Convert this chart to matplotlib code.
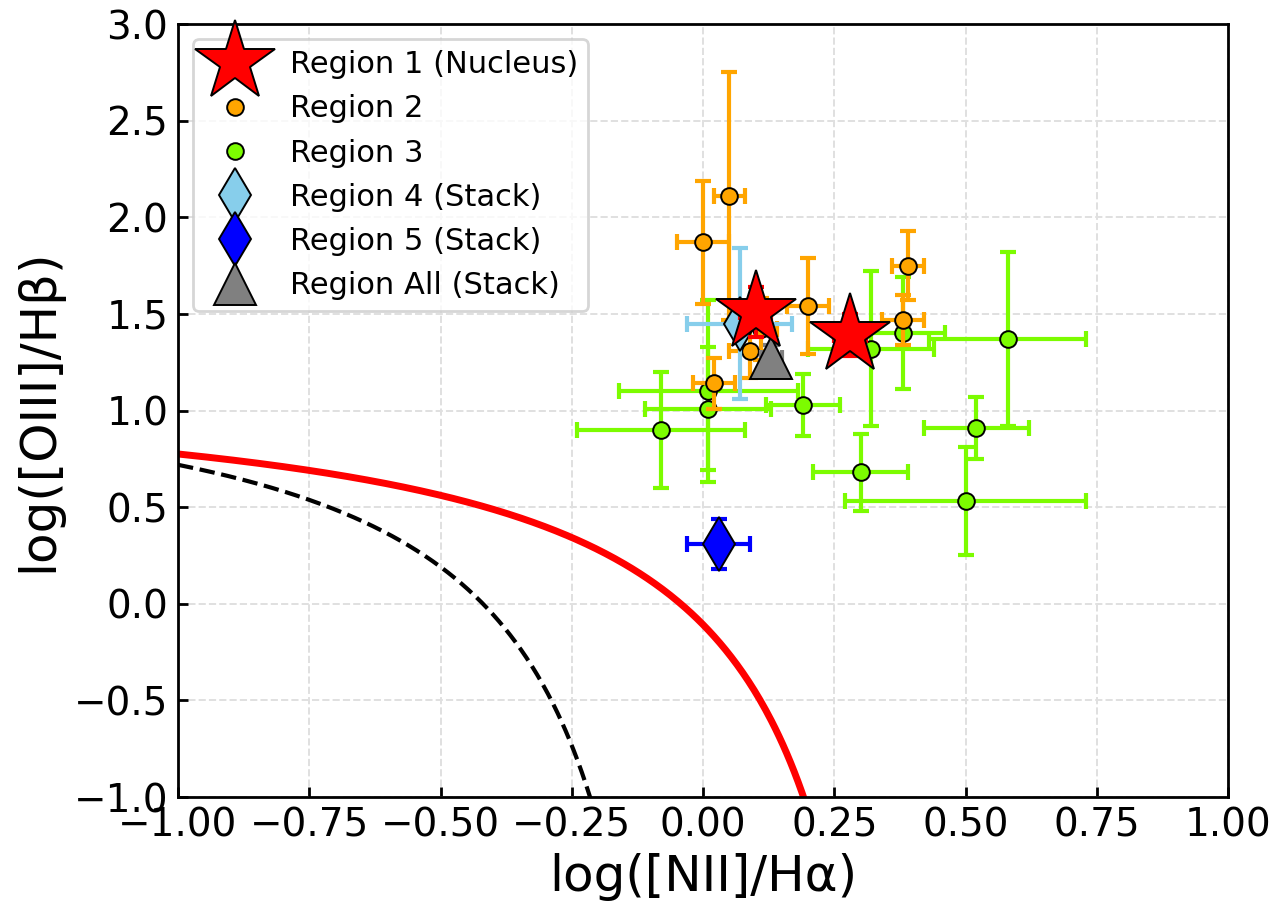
import numpy as np
import matplotlib
matplotlib.use("Agg")
import matplotlib.pyplot as plt

# ---------------- data ----------------
r1_x = [0.10, 0.28]
r1_y = [1.51, 1.39]
r1_xerr = [0.03, 0.03]
r1_yerr = [0.13, 0.11]

r2_x = [0.05, 0.00, 0.20, 0.39, 0.38, 0.09, 0.11, 0.02]
r2_y = [2.11, 1.87, 1.54, 1.75, 1.47, 1.31, 1.42, 1.14]
r2_xerr = [0.03, 0.05, 0.04, 0.03, 0.04, 0.04, 0.03, 0.04]
r2_yerr = [0.64, 0.32, 0.25, 0.18, 0.13, 0.14, 0.16, 0.13]

r3_x = [0.58, 0.52, 0.50, 0.30, 0.19, -0.08, 0.01, 0.01, 0.32, 0.38]
r3_y = [1.37, 0.91, 0.53, 0.68, 1.03, 0.90, 1.10, 1.01, 1.32, 1.40]
r3_xerr = [0.15, 0.10, 0.23, 0.09, 0.07, 0.16, 0.17, 0.12, 0.12, 0.08]
r3_yerr = [0.45, 0.16, 0.28, 0.20, 0.16, 0.30, 0.47, 0.32, 0.40, 0.29]

r4_x, r4_y, r4_xerr, r4_yerr = [0.07], [1.45], [0.10], [0.39]
r5_x, r5_y, r5_xerr, r5_yerr = [0.03], [0.31], [0.06], [0.13]
rall_x, rall_y, rall_xerr, rall_yerr = [0.13], [1.27], [0.02], [0.07]

labels = ["Region 1 (Nucleus)", "Region 2", "Region 3", "Region 4 (Stack)",
          "Region 5 (Stack)", "Region All (Stack)"]
xticks = [-1.00, -0.75, -0.50, -0.25, 0.00, 0.25, 0.50, 0.75, 1.00]
yticks = [-1.0, -0.5, 0.0, 0.5, 1.0, 1.5, 2.0, 2.5, 3.0]

# demarcation curves: y = a / (x - b) + c
kewley = (0.61, 0.47, 1.19)
kauffmann = (0.61, 0.05, 1.30)

# ---------------- figure ----------------
fig = plt.figure(figsize=(6.37, 4.525), dpi=200)
ax = fig.add_axes([178/1274, 1 - 797/905, (1228-178)/1274, (797-24)/905])

ax.grid(True, color="#e0e0e0", linestyle="--", linewidth=0.7, zorder=0)
ax.set_axisbelow(True)

xk = np.linspace(-1.0, kewley[1] - 0.02, 400)
ax.plot(xk, kewley[0] / (xk - kewley[1]) + kewley[2], color="red", lw=2.5, zorder=2)
xf = np.linspace(-1.0, kauffmann[1] - 0.02, 400)
ax.plot(xf, kauffmann[0] / (xf - kauffmann[1]) + kauffmann[2], color="black",
        lw=1.5, ls="--", zorder=2)

ekw = dict(fmt="none", elinewidth=1.5, capsize=3, capthick=1.5)
mew = 0.7

ax.errorbar(r3_x, r3_y, xerr=r3_xerr, yerr=r3_yerr, ecolor="#7CFC00", zorder=3, **ekw)
ax.plot(r3_x, r3_y, ls="none", marker="o", ms=6, mfc="#7CFC00", mec="black",
        mew=mew, zorder=4)
ax.errorbar(r2_x, r2_y, xerr=r2_xerr, yerr=r2_yerr, ecolor="#FFA500", zorder=5, **ekw)
ax.plot(r2_x, r2_y, ls="none", marker="o", ms=6, mfc="#FFA500", mec="black",
        mew=mew, zorder=6)
ax.errorbar(r4_x, r4_y, xerr=r4_xerr, yerr=r4_yerr, ecolor="#87CEEB", zorder=7, **ekw)
ax.plot(r4_x, r4_y, ls="none", marker="d", ms=14, mfc="#87CEEB", mec="black",
        mew=mew, zorder=8)
ax.errorbar(r5_x, r5_y, xerr=r5_xerr, yerr=r5_yerr, ecolor="blue", zorder=7, **ekw)
ax.plot(r5_x, r5_y, ls="none", marker="d", ms=14, mfc="blue", mec="black",
        mew=mew, zorder=8)
ax.errorbar(rall_x, rall_y, xerr=rall_xerr, yerr=rall_yerr, ecolor="grey", zorder=9, **ekw)
ax.plot(rall_x, rall_y, ls="none", marker="^", ms=15, mfc="grey", mec="black",
        mew=mew, zorder=10)
ax.errorbar(r1_x, r1_y, xerr=r1_xerr, yerr=r1_yerr, ecolor="red", zorder=11, **ekw)
ax.plot(r1_x, r1_y, ls="none", marker="*", ms=30, mfc="red", mec="black",
        mew=mew, zorder=12)

# legend handles (markers only)
h1, = ax.plot([], [], ls="none", marker="*", ms=30, mfc="red", mec="black", mew=mew)
h2, = ax.plot([], [], ls="none", marker="o", ms=6, mfc="#FFA500", mec="black", mew=mew)
h3, = ax.plot([], [], ls="none", marker="o", ms=6, mfc="#7CFC00", mec="black", mew=mew)
h4, = ax.plot([], [], ls="none", marker="d", ms=14, mfc="#87CEEB", mec="black", mew=mew)
h5, = ax.plot([], [], ls="none", marker="d", ms=14, mfc="blue", mec="black", mew=mew)
h6, = ax.plot([], [], ls="none", marker="^", ms=15, mfc="grey", mec="black", mew=mew)
leg = ax.legend([h1, h2, h3, h4, h5, h6], labels, loc="upper left", fontsize=11,
                numpoints=1, borderaxespad=0.5, labelspacing=0.5, borderpad=0.35)
leg.set_zorder(20)

ax.set_xlim(-1.0, 1.0)
ax.set_ylim(-1.0, 3.0)
ax.set_xticks(xticks)
ax.set_yticks(yticks)
ax.set_xticklabels([f"{t:.2f}".replace("-", "\u2212") for t in xticks])
ax.set_yticklabels([f"{t:.1f}".replace("-", "\u2212") for t in yticks])
ax.tick_params(direction="in", labelsize=14, length=3.5, width=1.0)
for s in ax.spines.values():
    s.set_linewidth(1.0)

ax.set_xlabel("log([NII]/H\u03b1)", fontsize=18, labelpad=3)
ax.set_ylabel("log([OIII]/H\u03b2)", fontsize=18)

fig.savefig("out.png", dpi=200)
